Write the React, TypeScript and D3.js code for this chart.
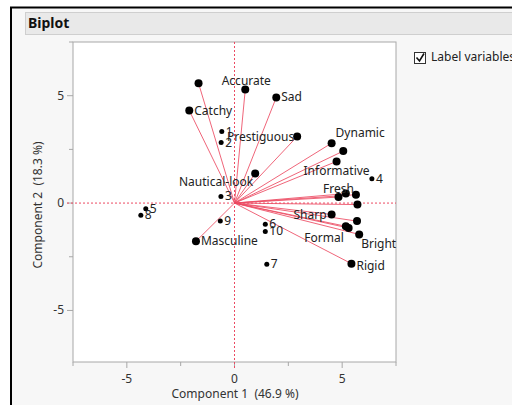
import React from 'react'
import * as d3 from 'd3'

// observation scores (rows)
const obsNames = ['1', '2', '3', '4', '5', '6', '7', '8', '9', '10']
const obsX = [-0.59, -0.62, -0.63, 6.38, -4.12, 1.43, 1.5, -4.35, -0.66, 1.43]
const obsY = [3.33, 2.82, 0.31, 1.13, -0.26, -0.99, -2.85, -0.57, -0.84, -1.32]

// variable loadings (rays); empty label = label hidden in the plot
const varNames = [
    'Accurate', '', 'Sad', 'Catchy', 'Prestiguous', 'Nautical-look', 'Dynamic', '',
    'Informative', 'Fresh', '', '', '', 'Sharp', '', 'Formal', '', 'Bright', 'Rigid', 'Masculine',
]
const varX = [0.5, -1.67, 1.94, -2.1, 2.91, 0.96, 4.51, 5.05, 4.74, 4.83, 5.17, 5.64, 5.71, 4.51, 5.69, 5.17, 5.3, 5.79, 5.43, -1.79]
const varY = [5.29, 5.58, 4.92, 4.31, 3.1, 1.38, 2.79, 2.42, 1.94, 0.28, 0.44, 0.39, -0.07, -0.53, -0.84, -1.08, -1.16, -1.46, -2.82, -1.78]

// label nudges in px: [dx, dy, anchor]
const varLabelPos: [number, number, string][] = [
    [1, -4, 'middle'], [5, 4, 'start'], [5, 4, 'start'], [5, 4, 'start'], [-3, 5, 'end'],
    [-2, 13, 'end'], [4, -6, 'start'], [5, 4, 'start'], [0, 14, 'middle'], [0, -4, 'middle'],
    [5, 4, 'start'], [5, 4, 'start'], [5, 4, 'start'], [-5, 5, 'end'], [5, 4, 'start'],
    [-2, 16, 'end'], [5, 4, 'start'], [2, 14, 'start'], [5, 6, 'start'], [5, 4, 'start'],
]

const majorTicks = [-5, 0, 5]
const minorTicks = [-7.5, -2.5, 2.5, 7.5]

const font = '"Segoe UI", "Noto Sans", sans-serif'
const axisGray = '#a8a8a8'
const rayColor = '#ec4a62'

export default function App() {
    const left = 73, right = 396, top = 42, bottom = 362
    const x = d3.scaleLinear().domain([-7.5, 7.5]).range([left, right])
    const y = d3.scaleLinear().domain([-7.4, 7.5]).range([bottom, top])
    const x0 = x(0), y0 = y(0)

    return (
        <svg width={512} height={405} style={{ position: 'absolute', left: 0, top: 0 }} fontFamily={font}>
            <rect width={512} height={405} fill="#ffffff" />
            <rect x={11} y={7} width={501} height={398} fill="#f7f7f7" />
            <line x1={10} x2={512} y1={7.5} y2={7.5} stroke="#000" strokeWidth={2} />
            <line x1={11} x2={11} y1={7} y2={405} stroke="#000" strokeWidth={2} />

            {/* header */}
            <rect x={25.5} y={12.5} width={490} height={22} fill="#e9e9e9" stroke="#cfcfcf" />
            <text x={28} y={28} fontSize={14} fontWeight="bold" fill="#111">Biplot</text>

            {/* plot frame */}
            <rect x={left} y={top} width={right - left} height={bottom - top} fill="#fff" stroke={axisGray} />

            {/* ticks */}
            {majorTicks.map((t) => (
                <g key={'mx' + t}>
                    <line x1={x(t)} x2={x(t)} y1={bottom} y2={bottom + 6} stroke={axisGray} />
                    <text x={x(t)} y={bottom + 21} fontSize={12} textAnchor="middle" fill="#333">{t}</text>
                    <line x1={left - 6} x2={left} y1={y(t)} y2={y(t)} stroke={axisGray} />
                    <text x={left - 9} y={y(t) + 4} fontSize={12} textAnchor="end" fill="#333">{t}</text>
                </g>
            ))}
            {minorTicks.map((t) => (
                <g key={'mn' + t}>
                    <line x1={x(t)} x2={x(t)} y1={bottom} y2={bottom + 4} stroke={axisGray} />
                    {t > -7.4 && <line x1={left - 4} x2={left} y1={y(t)} y2={y(t)} stroke={axisGray} />}
                </g>
            ))}

            {/* axis titles */}
            <text x={235} y={398} fontSize={12} textAnchor="middle" fill="#333" xmlSpace="preserve">Component 1  (46.9 %)</text>
            <text transform={`translate(42, 205) rotate(-90)`} fontSize={12} textAnchor="middle" fill="#333" xmlSpace="preserve">Component 2  (18.3 %)</text>

            {/* reference lines */}
            <line x1={x0} x2={x0} y1={top} y2={bottom + 6} stroke={rayColor} strokeDasharray="2,2" />
            <line x1={left - 6} x2={right} y1={y0} y2={y0} stroke={rayColor} strokeDasharray="2,2" />

            {/* rays */}
            {varX.map((v, i) => (
                <line key={'r' + i} x1={x0} y1={y0} x2={x(v)} y2={y(varY[i])} stroke={rayColor} strokeOpacity={0.85} />
            ))}
            {varX.map((v, i) => (
                <circle key={'v' + i} cx={x(v)} cy={y(varY[i])} r={4} fill="#000" />
            ))}

            {/* observations */}
            {obsX.map((v, i) => (
                <g key={'o' + i}>
                    <circle cx={x(v)} cy={y(obsY[i])} r={2.5} fill="#000" />
                    <text x={x(v) + 4} y={y(obsY[i]) + 4} fontSize={12} fill="#222">{obsNames[i]}</text>
                </g>
            ))}

            {/* variable labels */}
            {varNames.map((n, i) => n && (
                <text key={'l' + i} x={x(varX[i]) + varLabelPos[i][0]} y={y(varY[i]) + varLabelPos[i][1]}
                    textAnchor={varLabelPos[i][2]} fontSize={12} fill="#222">{n}</text>
            ))}

            {/* label variables checkbox */}
            <rect x={414.5} y={52.5} width={11} height={11} fill="#fff" stroke="#333" />
            <path d="M416.5,57.5 L419.5,61 L424,53.5" fill="none" stroke="#111" strokeWidth={1.6} />
            <text x={431} y={61} fontSize={12} fill="#222">Label variables</text>
        </svg>
    )
}
